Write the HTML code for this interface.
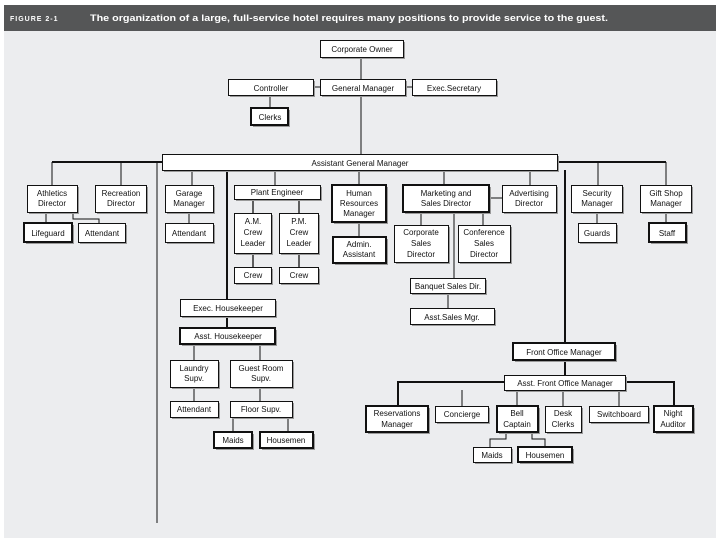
<!DOCTYPE html>
<html><head><meta charset="utf-8"><style>
html,body{margin:0;padding:0;background:#fff;}
svg{display:block;}
text{font-family:"Liberation Sans",sans-serif;font-size:8px;fill:#111;}
</style></head><body>
<svg width="720" height="540" viewBox="0 0 720 540" xmlns="http://www.w3.org/2000/svg">
<rect x="4" y="5" width="712" height="533" fill="#ecedef"/>
<rect x="4" y="5" width="712" height="26" fill="#555657"/>
<text x="10" y="21" style="font-size:7px;font-weight:bold;fill:#fff;letter-spacing:1px">FIGURE 2-1</text>
<text x="90" y="21" textLength="518" lengthAdjust="spacingAndGlyphs" style="font-size:9.5px;font-weight:bold;fill:#fff">The organization of a large, full-service hotel requires many positions to provide service to the guest.</text>

<g stroke="#111" fill="none" stroke-width="1">
<path d="M361 57V79M313 87H320M405 87H412M270 95V108M361 95V154"/>
<path d="M52 162H162M557 162H666" stroke-width="2"/>
<path d="M52 162V185M121 162V185M192 162V185M275 162V185M359 170V185M444 170V185M530 170V185M598 162V185M666 162V185"/>
<path d="M157 162V523"/>
<path d="M227 170V299M565 170V343" stroke-width="2"/>
<path d="M46 212V223M73 212V219H99V223M189 212V223"/>
<path d="M253 199V213M299 199V213M253 253V267M299 253V267" stroke-width="1.3"/>
<path d="M359 222V237M421 212V225M483 212V225M454 212V278M448 293V308M489 198H502"/>
<path d="M597 212V223M666 212V223"/>
<path d="M227 316V328" stroke-width="2"/>
<path d="M194 344V360M260 344V360M194 387V401M260 387V401M233 417V432M288 417V432"/>
<path d="M565 360V375M398 406V382H504M625 382H674V406" stroke-width="2"/>
<path d="M462 390V406M517 390V406M563 390V406M619 390V406"/>
<path d="M506 432V439H490V447M532 432V439H545V447"/>
</g>

<g id="boxes">
<!-- helper: shadow then box -->
</g>
<g fill="#9a9a9a">
<rect x="322" y="42" width="83" height="17"/><rect x="230" y="81" width="85" height="16"/><rect x="322" y="81" width="85" height="16"/><rect x="414" y="81" width="84" height="16"/><rect x="253" y="110" width="37" height="17"/><rect x="164" y="156" width="395" height="16"/>
<rect x="29" y="187" width="50" height="27"/><rect x="97" y="187" width="51" height="27"/><rect x="167" y="187" width="48" height="27"/><rect x="236" y="187" width="86" height="14"/><rect x="334" y="187" width="54" height="37"/><rect x="405" y="187" width="86" height="27"/><rect x="504" y="187" width="54" height="27"/><rect x="573" y="187" width="51" height="27"/><rect x="642" y="187" width="51" height="27"/>
<rect x="26" y="225" width="48" height="19"/><rect x="80" y="225" width="47" height="19"/><rect x="167" y="225" width="48" height="19"/><rect x="236" y="215" width="37" height="40"/><rect x="281" y="215" width="39" height="40"/><rect x="236" y="269" width="37" height="16"/><rect x="281" y="269" width="39" height="16"/><rect x="335" y="239" width="53" height="26"/><rect x="396" y="227" width="54" height="37"/><rect x="460" y="227" width="52" height="37"/><rect x="580" y="225" width="38" height="19"/><rect x="651" y="225" width="37" height="19"/>
<rect x="412" y="280" width="75" height="15"/><rect x="412" y="310" width="84" height="16"/><rect x="182" y="301" width="95" height="17"/><rect x="182" y="330" width="95" height="16"/><rect x="515" y="345" width="102" height="17"/>
<rect x="172" y="362" width="48" height="27"/><rect x="232" y="362" width="62" height="27"/><rect x="172" y="403" width="48" height="16"/><rect x="232" y="403" width="62" height="16"/><rect x="216" y="434" width="38" height="16"/><rect x="262" y="434" width="53" height="16"/>
<rect x="506" y="377" width="121" height="15"/><rect x="368" y="408" width="62" height="26"/><rect x="437" y="408" width="53" height="16"/><rect x="499" y="408" width="41" height="26"/><rect x="547" y="408" width="36" height="26"/><rect x="591" y="408" width="59" height="16"/><rect x="656" y="408" width="39" height="26"/><rect x="475" y="449" width="38" height="15"/><rect x="520" y="449" width="54" height="15"/>
</g>
<g fill="#fff" stroke="#111" stroke-width="1">
<rect x="320.5" y="40.5" width="83" height="17"/><rect x="228.5" y="79.5" width="85" height="16"/><rect x="320.5" y="79.5" width="85" height="16"/><rect x="412.5" y="79.5" width="84" height="16"/><rect x="251" y="108" width="37" height="17" stroke-width="2"/><rect x="162.5" y="154.5" width="395" height="16"/>
<rect x="27.5" y="185.5" width="50" height="27"/><rect x="95.5" y="185.5" width="51" height="27"/><rect x="165.5" y="185.5" width="48" height="27"/><rect x="234.5" y="185.5" width="86" height="14"/><rect x="332" y="185" width="54" height="37" stroke-width="2"/><rect x="403" y="185" width="86" height="27" stroke-width="2"/><rect x="502.5" y="185.5" width="54" height="27"/><rect x="571.5" y="185.5" width="51" height="27"/><rect x="640.5" y="185.5" width="51" height="27"/>
<rect x="24" y="223" width="48" height="19" stroke-width="2"/><rect x="78.5" y="223.5" width="47" height="19"/><rect x="165.5" y="223.5" width="48" height="19"/><rect x="234.5" y="213.5" width="37" height="40"/><rect x="279.5" y="213.5" width="39" height="40"/><rect x="234.5" y="267.5" width="37" height="16"/><rect x="279.5" y="267.5" width="39" height="16"/><rect x="333" y="237" width="53" height="26" stroke-width="2"/><rect x="394.5" y="225.5" width="54" height="37"/><rect x="458.5" y="225.5" width="52" height="37"/><rect x="578.5" y="223.5" width="38" height="19"/><rect x="649" y="223" width="37" height="19" stroke-width="2"/>
<rect x="410.5" y="278.5" width="75" height="15"/><rect x="410.5" y="308.5" width="84" height="16"/><rect x="180.5" y="299.5" width="95" height="17"/><rect x="180" y="328" width="95" height="16" stroke-width="2"/><rect x="513" y="343" width="102" height="17" stroke-width="2"/>
<rect x="170.5" y="360.5" width="48" height="27"/><rect x="230.5" y="360.5" width="62" height="27"/><rect x="170.5" y="401.5" width="48" height="16"/><rect x="230.5" y="401.5" width="62" height="16"/><rect x="214" y="432" width="38" height="16" stroke-width="2"/><rect x="260" y="432" width="53" height="16" stroke-width="2"/>
<rect x="504.5" y="375.5" width="121" height="15"/><rect x="366" y="406" width="62" height="26" stroke-width="2"/><rect x="435.5" y="406.5" width="53" height="16"/><rect x="497" y="406" width="41" height="26" stroke-width="2"/><rect x="545.5" y="406.5" width="36" height="26"/><rect x="589.5" y="406.5" width="59" height="16"/><rect x="654" y="406" width="39" height="26" stroke-width="2"/><rect x="473.5" y="447.5" width="38" height="15"/><rect x="518" y="447" width="54" height="15" stroke-width="2"/>
</g>
<g text-anchor="middle">
<text x="362" y="52">Corporate Owner</text><text x="271" y="91">Controller</text><text x="363" y="91">General Manager</text><text x="454" y="91">Exec.Secretary</text><text x="270" y="120">Clerks</text><text x="360" y="166">Assistant General Manager</text>
<text x="52" y="196">Athletics</text><text x="52" y="206">Director</text>
<text x="121" y="196">Recreation</text><text x="121" y="206">Director</text>
<text x="189" y="196">Garage</text><text x="189" y="206">Manager</text>
<text x="277" y="195">Plant Engineer</text>
<text x="359" y="196">Human</text><text x="359" y="206">Resources</text><text x="359" y="216">Manager</text>
<text x="446" y="196">Marketing and</text><text x="446" y="206">Sales Director</text>
<text x="529" y="196">Advertising</text><text x="529" y="206">Director</text>
<text x="597" y="196">Security</text><text x="597" y="206">Manager</text>
<text x="666" y="196">Gift Shop</text><text x="666" y="206">Manager</text>
<text x="48" y="236">Lifeguard</text><text x="102" y="236">Attendant</text><text x="189" y="236">Attendant</text>
<text x="253" y="224">A.M.</text><text x="253" y="235">Crew</text><text x="253" y="246">Leader</text>
<text x="299" y="224">P.M.</text><text x="299" y="235">Crew</text><text x="299" y="246">Leader</text>
<text x="253" y="278">Crew</text><text x="299" y="278">Crew</text>
<text x="359" y="247">Admin.</text><text x="359" y="257">Assistant</text>
<text x="421" y="235">Corporate</text><text x="421" y="246">Sales</text><text x="421" y="257">Director</text>
<text x="484" y="235">Conference</text><text x="484" y="246">Sales</text><text x="484" y="257">Director</text>
<text x="597" y="236">Guards</text><text x="667" y="236">Staff</text>
<text x="448" y="289">Banquet Sales Dir.</text><text x="452" y="320">Asst.Sales Mgr.</text>
<text x="228" y="311">Exec. Housekeeper</text><text x="228" y="339">Asst. Housekeeper</text><text x="564" y="355">Front Office Manager</text>
<text x="194" y="371">Laundry</text><text x="194" y="381">Supv.</text>
<text x="261" y="371">Guest Room</text><text x="261" y="381">Supv.</text>
<text x="194" y="412">Attendant</text><text x="261" y="412">Floor Supv.</text>
<text x="233" y="443">Maids</text><text x="286" y="443">Housemen</text>
<text x="565" y="386">Asst. Front Office Manager</text>
<text x="397" y="416">Reservations</text><text x="397" y="427">Manager</text>
<text x="462" y="417">Concierge</text>
<text x="517" y="416">Bell</text><text x="517" y="427">Captain</text>
<text x="563" y="416">Desk</text><text x="563" y="427">Clerks</text>
<text x="619" y="417">Switchboard</text>
<text x="673" y="416">Night</text><text x="673" y="427">Auditor</text>
<text x="492" y="458">Maids</text><text x="545" y="458">Housemen</text>
</g>
</svg>
</body></html>
